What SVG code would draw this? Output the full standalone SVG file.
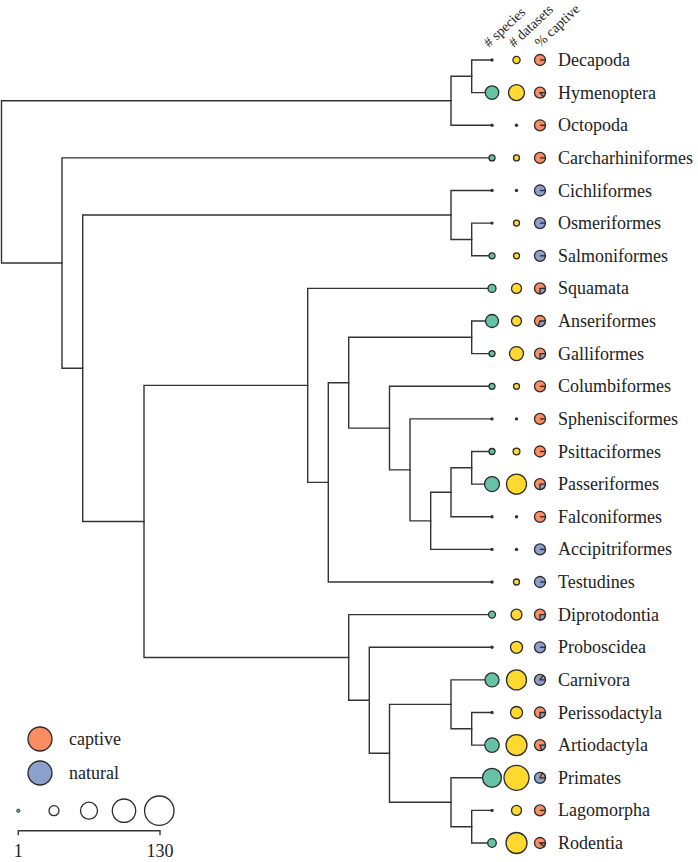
<svg xmlns="http://www.w3.org/2000/svg" width="698" height="862" viewBox="0 0 698 862">
<style>
.br{fill:none;stroke:#333;stroke-width:1.4;stroke-linecap:square}
.dot{fill:#333;stroke:none}
.sp{fill:#66c2a5;stroke:#2b2b2b;stroke-width:1.3}
.ds{fill:#ffd92f;stroke:#2b2b2b;stroke-width:1.3}
.cap{fill:#fc8d62;stroke:#2b2b2b;stroke-width:1.3}
.nat{fill:#8da0cb;stroke:#2b2b2b;stroke-width:1.3}
.rl{stroke:#2b2b2b;stroke-width:1.3}
.lbl{font-family:"Liberation Serif","Times New Roman",serif;font-size:18px;fill:#222}
.hdr{font-family:"Liberation Serif","Times New Roman",serif;font-size:14px;fill:#222}
.szl{fill:#fff;stroke:#2b2b2b;stroke-width:1.3}
</style>
<rect width="698" height="862" fill="#fff"/>
<g id="connectors">
<path class="br" d="M451 100.8H1.5V263H62"/>
<path class="br" d="M471.7 76.3H451V125.3H492"/>
<path class="br" d="M492 60H471.7V92.6H492"/>
<path class="br" d="M492 157.9H62V368.2H82.7"/>
<path class="br" d="M451 215H82.7V521.5H144"/>
<path class="br" d="M492 190.5H451V239.5H471.7"/>
<path class="br" d="M492 223.1H471.7V255.8H492"/>
<path class="br" d="M307.7 385.4H144V657.5H348.7"/>
<path class="br" d="M492 288.4H307.7V482.4H328.3"/>
<path class="br" d="M348.7 382.7H328.3V582H492"/>
<path class="br" d="M471.7 337.3H348.7V428.1H389.5"/>
<path class="br" d="M492 321H471.7V353.6H492"/>
<path class="br" d="M492 386.3H389.5V469.9H410"/>
<path class="br" d="M492 418.9H410V520.9H430.7"/>
<path class="br" d="M451 492.3H430.7V549.4H492"/>
<path class="br" d="M471.7 467.8H451V516.8H492"/>
<path class="br" d="M492 451.5H471.7V484.1H492"/>
<path class="br" d="M492 614.6H348.7V700.3H369.3"/>
<path class="br" d="M492 647.3H369.3V753.3H389.5"/>
<path class="br" d="M451 704.4H389.5V802.2H451"/>
<path class="br" d="M492 679.9H451V728.8H471.7"/>
<path class="br" d="M492 712.5H471.7V745.1H492"/>
<path class="br" d="M492 777.8H451V826.7H471.7"/>
<path class="br" d="M492 810.4H471.7V843H492"/>
</g>
<g id="header">
<text class="hdr" transform="translate(489 48) rotate(-43)"># species</text>
<text class="hdr" transform="translate(514 48) rotate(-43)"># datasets</text>
<text class="hdr" transform="translate(540 48) rotate(-43)">% captive</text>
</g>
<g id="Decapoda" transform="translate(0 60)">
<circle class="dot" cx="492" cy="0" r="1.7"/><circle class="ds" cx="516.5" cy="0" r="3.6"/>
<circle class="cap" cx="540" cy="0" r="5.5"/><path class="rl" d="M540 0H545.5"/>
<text class="lbl" x="558" y="6">Decapoda</text></g>
<g id="Hymenoptera" transform="translate(0 92.6)">
<circle class="sp" cx="492" cy="0" r="6.8"/><circle class="ds" cx="516.5" cy="0" r="8"/>
<circle class="cap" cx="540" cy="0" r="5.5"/><path class="nat" d="M540 0L543.5 4.24A5.5 5.5 0 0 0 545.5 0Z"/>
<text class="lbl" x="558" y="6">Hymenoptera</text></g>
<g id="Octopoda" transform="translate(0 125.3)">
<circle class="dot" cx="492" cy="0" r="1.7"/><circle class="dot" cx="516.5" cy="0" r="1.7"/>
<circle class="cap" cx="540" cy="0" r="5.5"/><path class="rl" d="M540 0H545.5"/>
<text class="lbl" x="558" y="6">Octopoda</text></g>
<g id="Carcharhiniformes" transform="translate(0 157.9)">
<circle class="sp" cx="492" cy="0" r="3"/><circle class="ds" cx="516.5" cy="0" r="3"/>
<circle class="cap" cx="540" cy="0" r="5.5"/><path class="rl" d="M540 0H545.5"/>
<text class="lbl" x="558" y="6">Carcharhiniformes</text></g>
<g id="Cichliformes" transform="translate(0 190.5)">
<circle class="dot" cx="492" cy="0" r="1.7"/><circle class="dot" cx="516.5" cy="0" r="1.7"/>
<circle class="nat" cx="540" cy="0" r="5.5"/><path class="rl" d="M540 0H545.5"/>
<text class="lbl" x="558" y="6">Cichliformes</text></g>
<g id="Osmeriformes" transform="translate(0 223.1)">
<circle class="dot" cx="492" cy="0" r="1.7"/><circle class="ds" cx="516.5" cy="0" r="3"/>
<circle class="nat" cx="540" cy="0" r="5.5"/><path class="rl" d="M540 0H545.5"/>
<text class="lbl" x="558" y="6">Osmeriformes</text></g>
<g id="Salmoniformes" transform="translate(0 255.8)">
<circle class="sp" cx="492" cy="0" r="3"/><circle class="ds" cx="516.5" cy="0" r="3"/>
<circle class="nat" cx="540" cy="0" r="5.5"/><path class="rl" d="M540 0H545.5"/>
<text class="lbl" x="558" y="6">Salmoniformes</text></g>
<g id="Squamata" transform="translate(0 288.4)">
<circle class="sp" cx="492" cy="0" r="4"/><circle class="ds" cx="516.5" cy="0" r="5"/>
<circle class="cap" cx="540" cy="0" r="5.5"/><path class="nat" d="M540 0L540 5.5A5.5 5.5 0 0 0 545.5 0Z"/>
<text class="lbl" x="558" y="6">Squamata</text></g>
<g id="Anseriformes" transform="translate(0 321)">
<circle class="sp" cx="492" cy="0" r="6.5"/><circle class="ds" cx="516.5" cy="0" r="5"/>
<circle class="cap" cx="540" cy="0" r="5.5"/><path class="nat" d="M540 0L538.3 5.23A5.5 5.5 0 0 0 545.5 0Z"/>
<text class="lbl" x="558" y="6">Anseriformes</text></g>
<g id="Galliformes" transform="translate(0 353.6)">
<circle class="sp" cx="492" cy="0" r="3"/><circle class="ds" cx="516.5" cy="0" r="7"/>
<circle class="cap" cx="540" cy="0" r="5.5"/><path class="nat" d="M540 0L540 5.5A5.5 5.5 0 0 0 545.5 0Z"/>
<text class="lbl" x="558" y="6">Galliformes</text></g>
<g id="Columbiformes" transform="translate(0 386.3)">
<circle class="sp" cx="492" cy="0" r="3"/><circle class="ds" cx="516.5" cy="0" r="3"/>
<circle class="cap" cx="540" cy="0" r="5.5"/><path class="rl" d="M540 0H545.5"/>
<text class="lbl" x="558" y="6">Columbiformes</text></g>
<g id="Sphenisciformes" transform="translate(0 418.9)">
<circle class="dot" cx="492" cy="0" r="1.7"/><circle class="dot" cx="516.5" cy="0" r="1.7"/>
<circle class="cap" cx="540" cy="0" r="5.5"/><path class="rl" d="M540 0H545.5"/>
<text class="lbl" x="558" y="6">Sphenisciformes</text></g>
<g id="Psittaciformes" transform="translate(0 451.5)">
<circle class="sp" cx="492" cy="0" r="3"/><circle class="ds" cx="516.5" cy="0" r="3.4"/>
<circle class="cap" cx="540" cy="0" r="5.5"/><path class="rl" d="M540 0H545.5"/>
<text class="lbl" x="558" y="6">Psittaciformes</text></g>
<g id="Passeriformes" transform="translate(0 484.1)">
<circle class="sp" cx="492" cy="0" r="7.5"/><circle class="ds" cx="516.5" cy="0" r="10"/>
<circle class="cap" cx="540" cy="0" r="5.5"/><path class="nat" d="M540 0L540 5.5A5.5 5.5 0 0 0 545.5 0Z"/>
<text class="lbl" x="558" y="6">Passeriformes</text></g>
<g id="Falconiformes" transform="translate(0 516.8)">
<circle class="dot" cx="492" cy="0" r="1.7"/><circle class="dot" cx="516.5" cy="0" r="1.7"/>
<circle class="cap" cx="540" cy="0" r="5.5"/><path class="rl" d="M540 0H545.5"/>
<text class="lbl" x="558" y="6">Falconiformes</text></g>
<g id="Accipitriformes" transform="translate(0 549.4)">
<circle class="dot" cx="492" cy="0" r="1.7"/><circle class="dot" cx="516.5" cy="0" r="1.7"/>
<circle class="nat" cx="540" cy="0" r="5.5"/><path class="rl" d="M540 0H545.5"/>
<text class="lbl" x="558" y="6">Accipitriformes</text></g>
<g id="Testudines" transform="translate(0 582)">
<circle class="dot" cx="492" cy="0" r="1.7"/><circle class="ds" cx="516.5" cy="0" r="3"/>
<circle class="nat" cx="540" cy="0" r="5.5"/><path class="rl" d="M540 0H545.5"/>
<text class="lbl" x="558" y="6">Testudines</text></g>
<g id="Diprotodontia" transform="translate(0 614.6)">
<circle class="sp" cx="492" cy="0" r="3.5"/><circle class="ds" cx="516.5" cy="0" r="5.5"/>
<circle class="cap" cx="540" cy="0" r="5.5"/><path class="nat" d="M540 0L540 5.5A5.5 5.5 0 0 0 545.5 0Z"/>
<text class="lbl" x="558" y="6">Diprotodontia</text></g>
<g id="Proboscidea" transform="translate(0 647.3)">
<circle class="dot" cx="492" cy="0" r="1.7"/><circle class="ds" cx="516.5" cy="0" r="6"/>
<circle class="nat" cx="540" cy="0" r="5.5"/><path class="rl" d="M540 0H545.5"/>
<text class="lbl" x="558" y="6">Proboscidea</text></g>
<g id="Carnivora" transform="translate(0 679.9)">
<circle class="sp" cx="492" cy="0" r="7"/><circle class="ds" cx="516.5" cy="0" r="10"/>
<circle class="nat" cx="540" cy="0" r="5.5"/><path class="cap" d="M540 0L545.5 0A5.5 5.5 0 0 0 543.2 -4.45Z"/>
<text class="lbl" x="558" y="6">Carnivora</text></g>
<g id="Perissodactyla" transform="translate(0 712.5)">
<circle class="dot" cx="492" cy="0" r="1.7"/><circle class="ds" cx="516.5" cy="0" r="6"/>
<circle class="cap" cx="540" cy="0" r="5.5"/><path class="nat" d="M540 0L540 5.5A5.5 5.5 0 0 0 545.5 0Z"/>
<text class="lbl" x="558" y="6">Perissodactyla</text></g>
<g id="Artiodactyla" transform="translate(0 745.1)">
<circle class="sp" cx="492" cy="0" r="7.2"/><circle class="ds" cx="516.5" cy="0" r="10.5"/>
<circle class="cap" cx="540" cy="0" r="5.5"/><path class="nat" d="M540 0L541.7 5.23A5.5 5.5 0 0 0 545.5 0Z"/>
<text class="lbl" x="558" y="6">Artiodactyla</text></g>
<g id="Primates" transform="translate(0 777.8)">
<circle class="sp" cx="492" cy="0" r="9.5"/><circle class="ds" cx="516.5" cy="0" r="12.5"/>
<circle class="nat" cx="540" cy="0" r="5.5"/><path class="cap" d="M540 0L545.5 0A5.5 5.5 0 0 0 542.3 -4.98Z"/>
<text class="lbl" x="558" y="6">Primates</text></g>
<g id="Lagomorpha" transform="translate(0 810.4)">
<circle class="dot" cx="492" cy="0" r="1.7"/><circle class="ds" cx="516.5" cy="0" r="5"/>
<circle class="cap" cx="540" cy="0" r="5.5"/><path class="rl" d="M540 0H545.5"/>
<text class="lbl" x="558" y="6">Lagomorpha</text></g>
<g id="Rodentia" transform="translate(0 843)">
<circle class="sp" cx="492" cy="0" r="4.3"/><circle class="ds" cx="516.5" cy="0" r="10.5"/>
<circle class="cap" cx="540" cy="0" r="5.5"/><path class="nat" d="M540 0L544 3.77A5.5 5.5 0 0 0 545.5 0Z"/>
<text class="lbl" x="558" y="6">Rodentia</text></g>
<g id="legend">
<circle class="cap" cx="40" cy="739" r="12"/>
<text class="lbl" x="69" y="744.5">captive</text>
<circle class="nat" cx="40" cy="773" r="12"/>
<text class="lbl" x="69" y="778.5">natural</text>
<circle class="sp" cx="18.3" cy="810.7" r="1.6" style="stroke-width:1"/>
<circle class="szl" cx="54" cy="810.7" r="5"/>
<circle class="szl" cx="89" cy="810.7" r="8.5"/>
<circle class="szl" cx="124" cy="810.7" r="11.7"/>
<circle class="szl" cx="159.3" cy="810.7" r="14.7"/>
<path class="br" d="M18.3 834.5V830.7H160V834.5"/>
<text class="lbl" x="18.3" y="857" text-anchor="middle">1</text>
<text class="lbl" x="160" y="857" text-anchor="middle">130</text>
</g>
</svg>
